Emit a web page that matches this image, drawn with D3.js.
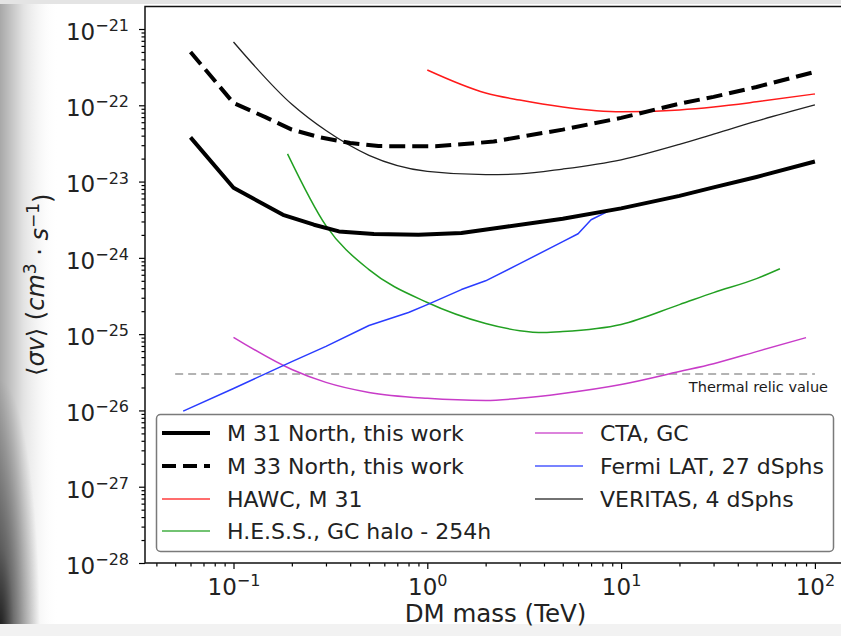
<!DOCTYPE html>
<html>
<head>
<meta charset="utf-8">
<script src="https://cdn.jsdelivr.net/npm/d3@7"></script>
<style>
  body { margin: 0; background: #fff; }
  text { font-family: "DejaVu Sans", sans-serif; }
</style>
</head>
<body>
<svg id="chart" width="841" height="636"></svg>
<script>
// DM mass (TeV) and <sigma v> upper limits (cm^3 s^-1)
var massM31 = [0.06, 0.1, 0.18, 0.26, 0.35, 0.53, 0.9, 1.5, 2.6, 5, 10, 20, 30, 50, 100];
var sigmaM31 = [3.8e-23, 8.3e-24, 3.67e-24, 2.72e-24, 2.22e-24, 2.06e-24, 2.01e-24, 2.12e-24, 2.58e-24, 3.25e-24, 4.45e-24, 6.5e-24, 8.4e-24, 1.15e-23, 1.83e-23];

var massM33 = [0.06, 0.1, 0.146, 0.2, 0.28, 0.4, 0.56, 0.8, 1.1, 1.55, 2.2, 3, 5, 10, 20, 30, 50, 100];
var sigmaM33 = [5.0e-22, 1.07e-22, 7.0e-23, 4.8e-23, 3.8e-23, 3.2e-23, 2.92e-23, 2.9e-23, 2.9e-23, 3.1e-23, 3.35e-23, 3.85e-23, 4.8e-23, 6.84e-23, 1.05e-22, 1.29e-22, 1.74e-22, 2.74e-22];

var massHAWC = [1, 2, 3, 5, 10, 20, 30, 50, 100];
var sigmaHAWC = [2.9e-22, 1.45e-22, 1.17e-22, 9.5e-23, 8.2e-23, 8.7e-23, 9.5e-23, 1.11e-22, 1.41e-22];

var massHESS = [0.19, 0.3, 0.5, 1, 2, 3, 4, 5, 10, 20, 30, 50, 66];
var sigmaHESS = [2.31e-23, 2.64e-24, 7.0e-25, 2.6e-25, 1.38e-25, 1.11e-25, 1.05e-25, 1.08e-25, 1.34e-25, 2.44e-25, 3.5e-25, 5.35e-25, 7.2e-25];

var massCTA = [0.1, 0.2, 0.3, 0.5, 1, 2, 3, 5, 10, 20, 30, 50, 90];
var sigmaCTA = [9.1e-26, 3.44e-26, 2.33e-26, 1.72e-26, 1.44e-26, 1.35e-26, 1.44e-26, 1.67e-26, 2.19e-26, 3.24e-26, 4.1e-26, 5.9e-26, 9.0e-26];

var massFermi = [0.055, 0.1, 0.2, 0.3, 0.5, 0.8, 1, 1.5, 2, 3, 5, 6, 7, 8.5];
var sigmaFermi = [9.8e-27, 1.94e-26, 4.37e-26, 6.9e-26, 1.3e-25, 1.92e-25, 2.44e-25, 3.84e-25, 5.0e-25, 8.4e-25, 1.63e-24, 2.07e-24, 3.16e-24, 4.03e-24];

var massVERITAS = [0.1, 0.2, 0.3, 0.5, 1, 2, 3, 5, 10, 20, 30, 50, 100];
var sigmaVERITAS = [6.76e-22, 1.03e-22, 4.66e-23, 2.21e-23, 1.36e-23, 1.23e-23, 1.26e-23, 1.46e-23, 1.93e-23, 3.07e-23, 4.19e-23, 6.2e-23, 1.01e-22];

var thermalMass = [0.05, 100];
var thermalValue = 3e-26;

var xMajor = [0.1, 1, 10, 100];
var xMajorExp = ["−1", "0", "1", "2"];
var yMajor = [1e-28, 1e-27, 1e-26, 1e-25, 1e-24, 1e-23, 1e-22, 1e-21];
var yMajorExp = ["−28", "−27", "−26", "−25", "−24", "−23", "−22", "−21"];

var legendLabels = ["M 31 North, this work", "M 33 North, this work", "HAWC, M 31", "H.E.S.S., GC halo - 254h",
                    "CTA, GC", "Fermi LAT, 27 dSphs", "VERITAS, 4 dSphs"];

var svg = d3.select("#chart");
var W = 841, H = 636;

// page background with the screenshot shading
var defs = svg.append("defs");
var g1 = defs.append("linearGradient").attr("id", "shadeL").attr("x1", 0).attr("x2", 1).attr("y1", 0).attr("y2", 0);
g1.append("stop").attr("offset", 0).attr("stop-color", "#a8a8a8");
g1.append("stop").attr("offset", 0.4).attr("stop-color", "#e2e2e2");
g1.append("stop").attr("offset", 1).attr("stop-color", "#fff").attr("stop-opacity", 0);
var g2 = defs.append("radialGradient").attr("id", "shadeC")
  .attr("cx", 0).attr("cy", 1).attr("r", 1);
g2.append("stop").attr("offset", 0).attr("stop-color", "#000").attr("stop-opacity", 0.85);
g2.append("stop").attr("offset", 0.35).attr("stop-color", "#000").attr("stop-opacity", 0.45);
g2.append("stop").attr("offset", 1).attr("stop-color", "#000").attr("stop-opacity", 0);
defs.append("clipPath").attr("id", "plotclip").append("rect")
  .attr("x", 145).attr("y", 6.5).attr("width", 701).attr("height", 556.5);

svg.append("rect").attr("width", W).attr("height", H).attr("fill", "#fff");
svg.append("rect").attr("x", 0).attr("y", 0).attr("width", 58).attr("height", H).attr("fill", "url(#shadeL)");
svg.append("rect").attr("x", 0).attr("y", 380).attr("width", 40).attr("height", H - 380).attr("fill", "url(#shadeC)");
svg.append("rect").attr("x", 0).attr("y", 0).attr("width", W).attr("height", 4).attr("fill", "#e4e4e4");
svg.append("rect").attr("x", 0).attr("y", 624).attr("width", W).attr("height", 12).attr("fill", "#f2f2f2");

var margin = {left: 145, right: 846, top: 6.5, bottom: 563};

var x = d3.scaleLog().domain([0.03494, 144.7]).range([margin.left, margin.right]);
var y = d3.scaleLog().domain([1e-28, Math.pow(10, -20.705)]).range([margin.bottom, margin.top]);

var plot = svg.append("g").attr("clip-path", "url(#plotclip)");

function series(mass, sigma) {
  return mass.map(function(m, i) { return [m, sigma[i]]; });
}

var lineLin = d3.line().x(function(d) { return x(d[0]); }).y(function(d) { return y(d[1]); });
var lineSmooth = d3.line().curve(d3.curveMonotoneX).x(function(d) { return x(d[0]); }).y(function(d) { return y(d[1]); });

// thermal relic reference
plot.append("path")
  .datum(series(thermalMass, [thermalValue, thermalValue]))
  .attr("d", lineLin)
  .attr("fill", "none").attr("stroke", "#9a9a9a").attr("stroke-width", 1.4).attr("stroke-dasharray", "8,5");

var styles = [
  {data: series(massM31, sigmaM31), color: "#000", width: 4, dash: null, gen: lineLin},
  {data: series(massM33, sigmaM33), color: "#000", width: 4, dash: "16,7", gen: lineLin},
  {data: series(massHAWC, sigmaHAWC), color: "#ff1a1a", width: 1.5, dash: null, gen: lineSmooth},
  {data: series(massHESS, sigmaHESS), color: "#22a022", width: 1.5, dash: null, gen: lineSmooth},
  {data: series(massCTA, sigmaCTA), color: "#c83cc8", width: 1.5, dash: null, gen: lineSmooth},
  {data: series(massFermi, sigmaFermi), color: "#2a3cff", width: 1.5, dash: null, gen: lineLin},
  {data: series(massVERITAS, sigmaVERITAS), color: "#222", width: 1.3, dash: null, gen: lineSmooth}
];

// draw order: thin ones first, thick on top
[6, 2, 3, 4, 5, 1, 0].forEach(function(i) {
  var s = styles[i];
  plot.append("path")
    .datum(s.data)
    .attr("d", s.gen)
    .attr("fill", "none")
    .attr("stroke", s.color)
    .attr("stroke-width", s.width)
    .attr("stroke-dasharray", s.dash)
    .attr("stroke-linejoin", "round");
});

svg.append("text")
  .attr("x", 828).attr("y", 392)
  .attr("text-anchor", "end")
  .attr("font-size", 14.5)
  .attr("fill", "#1a1a1a")
  .text("Thermal relic value");

// axes
var isMajor = function(v) { return Math.abs(Math.log10(v) - Math.round(Math.log10(v))) < 1e-9; };
var xMinor = x.ticks().filter(function(v) { return !isMajor(v); });
var yMinor = y.ticks().filter(function(v) { return !isMajor(v); });

function styleAxis(g) {
  g.select(".domain").remove();
  g.selectAll("line").attr("stroke", "#000").attr("stroke-width", 1.2);
}

svg.append("g").attr("transform", "translate(0," + margin.bottom + ")")
  .call(d3.axisBottom(x).tickValues(xMinor).tickSize(3.5).tickFormat(""))
  .call(styleAxis);
var xg = svg.append("g").attr("transform", "translate(0," + margin.bottom + ")")
  .call(d3.axisBottom(x).tickValues(xMajor).tickSize(6).tickPadding(9).tickFormat(""))
  .call(styleAxis);
xg.selectAll(".tick text").each(function(d, i) {
  var t = d3.select(this).attr("font-size", 23).attr("fill", "#222").attr("font-family", "DejaVu Sans")
    .attr("y", 32).attr("dy", null);
  t.append("tspan").text("10");
  t.append("tspan").attr("dy", "-0.55em").attr("font-size", 16).text(xMajorExp[i]);
});

svg.append("g").attr("transform", "translate(" + margin.left + ",0)")
  .call(d3.axisLeft(y).tickValues(yMinor).tickSize(3.5).tickFormat(""))
  .call(styleAxis);
var yg = svg.append("g").attr("transform", "translate(" + margin.left + ",0)")
  .call(d3.axisLeft(y).tickValues(yMajor).tickSize(6).tickPadding(10).tickFormat(""))
  .call(styleAxis);
yg.selectAll(".tick text").each(function(d, i) {
  var t = d3.select(this).attr("font-size", 23).attr("fill", "#222").attr("font-family", "DejaVu Sans").attr("dy", "0.45em");
  t.append("tspan").text("10");
  t.append("tspan").attr("dy", "-0.55em").attr("font-size", 16).text(yMajorExp[i]);
});

// spines (right one lies just outside the picture)
svg.append("path")
  .attr("d", "M" + margin.left + "," + margin.top + "V" + margin.bottom + "H" + margin.right + "V" + margin.top + "Z")
  .attr("fill", "none").attr("stroke", "#111").attr("stroke-width", 1.5);

// axis titles
svg.append("text")
  .attr("x", (margin.left + margin.right) / 2).attr("y", 622)
  .attr("text-anchor", "middle").attr("font-size", 24.5).attr("fill", "#222")
  .text("DM mass (TeV)");

var yl = svg.append("text")
  .attr("transform", "translate(44," + (margin.top + margin.bottom) / 2 + ") rotate(-90)")
  .attr("text-anchor", "middle").attr("font-size", 24).attr("fill", "#222");
yl.append("tspan").text("⟨");
yl.append("tspan").attr("font-style", "italic").text("σv");
yl.append("tspan").text("⟩ (");
yl.append("tspan").attr("font-style", "italic").text("cm");
yl.append("tspan").attr("dy", "-0.5em").attr("font-size", 17).text("3");
yl.append("tspan").attr("dy", "0.5em").text(" · ");
yl.append("tspan").attr("font-style", "italic").text("s");
yl.append("tspan").attr("dy", "-0.5em").attr("font-size", 17).text("−1");
yl.append("tspan").attr("dy", "0.5em").text(")");

// legend
var leg = svg.append("g");
leg.append("rect")
  .attr("x", 156.5).attr("y", 414.5).attr("width", 677).attr("height", 137).attr("rx", 4)
  .attr("fill", "#fff").attr("fill-opacity", 0.9).attr("stroke", "#7a7a7a").attr("stroke-width", 1.5);

var colX = [162, 535];
var rowY = [433, 466, 499, 531];
legendLabels.forEach(function(label, i) {
  var col = i < 4 ? 0 : 1, row = i < 4 ? i : i - 4;
  var s = styles[i];
  var ly = rowY[row];
  leg.append("line")
    .attr("x1", colX[col]).attr("x2", colX[col] + 48).attr("y1", ly).attr("y2", ly)
    .attr("stroke", s.color).attr("stroke-width", s.width)
    .attr("stroke-dasharray", s.dash ? "14,7" : null)
    .attr("stroke-opacity", s.width < 2 ? 0.85 : 1);
  leg.append("text")
    .attr("x", colX[col] + 65).attr("y", ly).attr("dy", "0.36em")
    .attr("font-size", 22).attr("fill", "#222")
    .text(label);
});
</script>
</body>
</html>
